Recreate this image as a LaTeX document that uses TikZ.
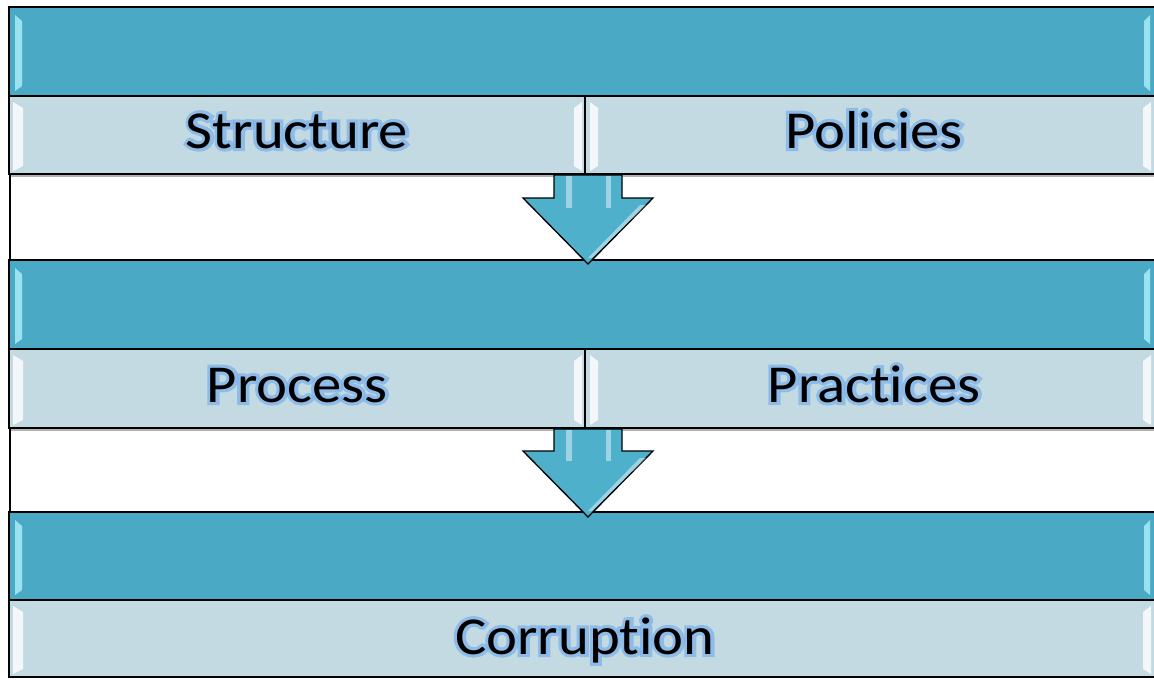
\documentclass[tikz,border=0pt]{standalone}
\usepackage{fontspec}
\setmainfont[RawFeature=-liga]{Carlito}
\newfontfamily\haloface[FakeBold=12,RawFeature=-liga]{Carlito}
\usetikzlibrary{calc}

\definecolor{bandteal}{RGB}{74,170,197}
\definecolor{paleblue}{RGB}{195,218,226}
\definecolor{glowblue}{RGB}{122,176,234}
\definecolor{arrowteal}{RGB}{78,176,203}
\definecolor{rimcyan}{RGB}{175,240,250}

\tikzset{
  band/.style={draw=black, line width=1.2pt, fill=bandteal},
  cell/.style={draw=black, line width=1.2pt, fill=paleblue},
  lbl/.style={font=\fontsize{40}{48}\selectfont, inner sep=0pt, anchor=base},
  halo/.style={lbl, font=\haloface\fontsize{40}{48}\selectfont, text=glowblue, opacity=0.7},
  rim/.style={fill=#1, draw=none, opacity=0.8},
  rim/.default=white,
  dropdown/.style={draw=black, line width=1pt, fill=arrowteal, line join=miter},
  shine/.style={fill=white, draw=none, opacity=0.45},
}

% label with a soft blue halo behind it
\newcommand{\glowlabel}[3]{%
  \node[halo] at (#2) {\scalebox{1.1}[1]{#3}};
  \node[lbl] (#1) at (#2) {\scalebox{1.1}[1]{#3}};
}

% bevelled edge strip inside a box: x outer, x inner, y top, y bottom, colour
\newcommand{\bevel}[5]{%
  \fill[rim=#5] (#1,#3+6) -- (#2,#3+12) -- (#2,#4-8) -- (#1,#4-3) -- cycle;
}

\begin{document}
\begin{tikzpicture}[x=0.75pt,y=0.75pt,yscale=-1,xscale=1]
\path[use as bounding box] (0,0) rectangle (1154,679);
\clip (0,0) rectangle (1154,679);

%Outer frame, left side
\draw[line width=1.2pt] (10,7) -- (10,677);

%Tier 1
\draw[band] (9,7) rectangle (1158,96);
\draw[cell] (9,96) rectangle (585,174);
\draw[cell] (585,96) rectangle (1158,174);
\bevel{15}{22}{9}{94}{rimcyan}
\bevel{1150}{1144}{9}{94}{rimcyan}
\bevel{13}{23}{96}{174}{white}
\bevel{582}{574}{96}{174}{white}
\bevel{590}{598}{96}{174}{white}
\bevel{1151}{1143}{96}{174}{white}
\draw[gray!60, line width=1pt] (11,176) -- (1158,176);

%Tier 2
\draw[band] (9,260) rectangle (1158,349);
\draw[cell] (9,349) rectangle (585,428);
\draw[cell] (585,349) rectangle (1158,428);
\bevel{15}{22}{262}{347}{rimcyan}
\bevel{1150}{1144}{262}{347}{rimcyan}
\bevel{13}{23}{349}{428}{white}
\bevel{582}{574}{349}{428}{white}
\bevel{590}{598}{349}{428}{white}
\bevel{1151}{1143}{349}{428}{white}
\draw[gray!60, line width=1pt] (11,430) -- (1158,430);

%Tier 3
\draw[band] (9,512) rectangle (1158,600);
\draw[cell] (9,600) rectangle (1158,677);
\bevel{15}{22}{514}{598}{rimcyan}
\bevel{1150}{1144}{514}{598}{rimcyan}
\bevel{13}{23}{600}{677}{white}
\bevel{1151}{1143}{600}{677}{white}

% Text Nodes
\glowlabel{structure}{297,148}{Structure}
\glowlabel{policies}{874,148}{Policies}
\glowlabel{process}{297,402}{Process}
\glowlabel{practices}{874,402}{Practices}
\glowlabel{corruption}{585,654}{Corruption}

%Shape: Down Arrow, tier 1 to tier 2
\draw[dropdown] (554,175) -- (622,175) -- (622,198) -- (653,198) -- (588,264) -- (523,198) -- (554,198) -- cycle;
\fill[shine] (566,176) rectangle (572,208);
\fill[shine] (606,176) rectangle (611,208);
\fill[shine] (588,258) -- (640,205) -- (646,205) -- (592,258) -- cycle;

%Shape: Down Arrow, tier 2 to tier 3
\draw[dropdown] (554,429) -- (622,429) -- (622,451) -- (653,451) -- (588,517) -- (523,451) -- (554,451) -- cycle;
\fill[shine] (566,430) rectangle (572,461);
\fill[shine] (606,430) rectangle (611,461);
\fill[shine] (588,511) -- (640,458) -- (646,458) -- (592,511) -- cycle;

\end{tikzpicture}
\end{document}
